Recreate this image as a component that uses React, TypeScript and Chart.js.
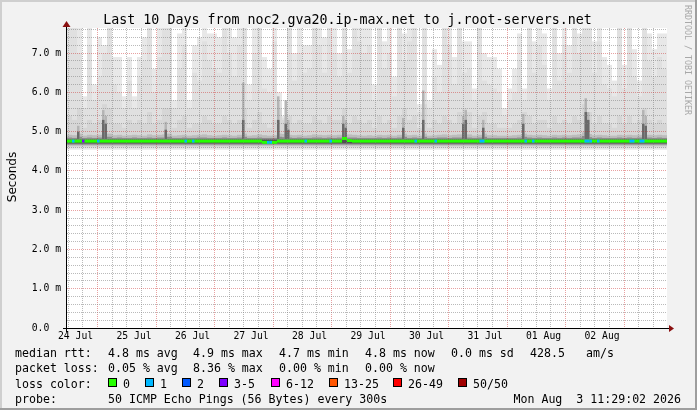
import React, { useEffect, useRef } from 'react';
import { Chart, registerables } from 'chart.js';

Chart.register(...registerables);

// ---------- text ----------
const TITLE = 'Last 10 Days from noc2.gva20.ip-max.net to j.root-servers.net';
const Y_UNIT = 'Seconds';
const WATERMARK = 'RRDTOOL / TOBI OETIKER';
const dayLabels = ['24 Jul', '25 Jul', '26 Jul', '27 Jul', '28 Jul', '29 Jul', '30 Jul', '31 Jul', '01 Aug', '02 Aug'];
const yLabels = ['0.0  ', '1.0 m', '2.0 m', '3.0 m', '4.0 m', '5.0 m', '6.0 m', '7.0 m'];
const rttStats = ['4.8 ms avg', '4.9 ms max', '4.7 ms min', '4.8 ms now', '0.0 ms sd', '428.5', 'am/s'];
const lossStats = ['0.05 % avg', '8.36 % max', '0.00 % min', '0.00 % now'];
const lossLabels = ['0', '1', '2', '3-5', '6-12', '13-25', '26-49', '50/50'];
const lossColors = ['#26ff00', '#00b8ff', '#0059ff', '#7e00ff', '#ff00ff', '#ff5500', '#ff0000', '#a10000'];
const PROBE = '50 ICMP Echo Pings (56 Bytes) every 300s';
const DATE = 'Mon Aug  3 11:29:02 2026';

// ---------- axes ----------
const Y_MAX = 7.64; // ms at top of plot
const HOURS = 240; // 10 days
const FIRST_TICK_H = 0.45; // first 6h boundary after start
const FINE_BINS = 240; // 1h steps

// ---------- smoke (ms), 120 bins of 2h ----------
const smokeTop1 = [
  7.7, 7.7, 7.7, 5.9, 7.7, 6.2, 7.4, 7.2, 7.7, 6.9,
  6.9, 5.9, 6.9, 5.9, 6.9, 7.4, 7.7, 6.6, 7.7, 7.7,
  7.7, 5.8, 7.5, 7.7, 5.8, 7.2, 7.4, 7.7, 7.5, 7.5,
  7.4, 7.7, 7.7, 7.4, 7.7, 7.7, 6.2, 7.7, 7.7, 6.9,
  6.6, 7.7, 6.0, 5.4, 7.7, 7.0, 7.7, 7.2, 7.2, 7.7,
  7.7, 7.4, 7.7, 7.7, 7.0, 7.7, 7.1, 7.7, 7.7, 7.7,
  7.7, 6.2, 7.7, 7.3, 7.7, 6.4, 7.7, 7.5, 7.7, 7.7,
  5.7, 7.7, 5.8, 7.1, 6.7, 7.7, 7.7, 6.9, 7.7, 7.3,
  7.3, 6.1, 7.7, 7.0, 6.9, 6.9, 6.6, 5.6, 6.1, 6.6,
  7.5, 6.1, 7.7, 7.3, 7.7, 7.5, 6.1, 7.7, 7.0, 7.7,
  7.2, 7.7, 7.5, 7.7, 7.7, 7.3, 7.7, 6.9, 6.7, 6.3,
  7.7, 6.7, 7.7, 7.1, 6.3, 7.7, 7.5, 7.1, 7.5, 7.5,
];
const smokeTop2 = [
  7.7, 7.7, 7.0, 5.6, 7.2, 5.8, 6.4, 7.0, 7.7, 6.2,
  6.0, 5.6, 6.3, 5.6, 6.4, 6.8, 7.7, 6.0, 6.9, 7.7,
  7.7, 5.6, 6.6, 7.2, 5.6, 6.5, 6.3, 7.3, 6.8, 6.6,
  6.5, 7.7, 7.0, 6.4, 7.2, 7.7, 5.8, 7.0, 7.7, 6.1,
  6.0, 7.3, 5.8, 5.35, 7.7, 6.3, 7.0, 6.5, 6.6, 7.7,
  7.2, 6.5, 7.7, 7.0, 6.4, 7.7, 6.5, 7.7, 7.3, 7.0,
  7.2, 5.8, 7.7, 6.6, 7.0, 5.9, 7.7, 6.8, 7.3, 7.7,
  5.5, 7.7, 5.6, 6.4, 6.0, 7.7, 7.2, 6.2, 7.7, 6.5,
  6.6, 5.8, 7.7, 6.3, 6.2, 6.1, 6.0, 5.4, 5.8, 6.0,
  6.8, 5.8, 7.7, 6.5, 7.2, 6.7, 5.8, 7.7, 6.3, 7.2,
  6.5, 7.7, 7.0, 7.7, 7.7, 6.5, 7.3, 6.2, 6.1, 5.9,
  7.7, 6.1, 7.7, 6.4, 5.9, 7.7, 6.8, 6.4, 6.9, 6.6,
];
const smokeTop3 = [
  5.4, 5.3, 5.6, 5.1, 5.3, 5.2, 5.3, 5.7, 5.6, 5.2,
  5.2, 5.1, 5.3, 5.2, 5.3, 5.2, 5.5, 5.2, 5.3, 5.6,
  5.6, 5.1, 5.3, 5.4, 5.1, 5.2, 5.2, 5.4, 5.3, 5.2,
  5.2, 5.4, 5.3, 5.2, 5.3, 5.6, 5.1, 5.3, 5.5, 5.2,
  5.1, 5.3, 5.6, 5.3, 5.4, 5.2, 5.3, 5.2, 5.2, 5.4,
  5.3, 5.2, 5.4, 5.3, 5.3, 5.6, 5.2, 5.4, 5.3, 5.2,
  5.3, 5.1, 5.4, 5.2, 5.3, 5.1, 5.4, 5.6, 5.3, 5.4,
  5.1, 5.7, 5.1, 5.3, 5.2, 5.4, 5.3, 5.2, 5.5, 5.6,
  5.5, 5.1, 5.4, 5.5, 5.2, 5.2, 5.1, 5.1, 5.1, 5.2,
  5.3, 5.5, 5.4, 5.2, 5.3, 5.3, 5.1, 5.4, 5.2, 5.3,
  5.2, 5.4, 5.3, 5.7, 5.5, 5.2, 5.4, 5.2, 5.2, 5.1,
  5.4, 5.2, 5.4, 5.2, 5.3, 5.6, 5.3, 5.2, 5.3, 5.2,
];
const smokeTop4 = [
  4.92, 4.91, 4.95, 4.90, 4.92, 4.91, 4.92, 4.97, 4.95, 4.91,
  4.92, 4.90, 4.91, 4.92, 4.91, 4.90, 4.93, 4.91, 4.92, 4.93,
  4.95, 4.90, 4.91, 4.92, 4.90, 4.91, 4.92, 4.93, 4.91, 4.90,
  4.91, 4.92, 4.91, 4.90, 4.92, 4.95, 4.90, 4.91, 4.93, 4.91,
  4.90, 4.91, 4.95, 4.94, 4.92, 4.91, 4.92, 4.90, 4.91, 4.93,
  4.92, 4.91, 4.92, 4.91, 4.92, 4.97, 4.93, 4.92, 4.91, 4.90,
  4.91, 4.90, 4.92, 4.91, 4.92, 4.90, 4.92, 4.95, 4.91, 4.92,
  4.90, 4.95, 4.90, 4.91, 4.92, 4.93, 4.91, 4.92, 4.93, 4.96,
  4.93, 4.90, 4.92, 4.95, 4.91, 4.91, 4.90, 4.90, 4.90, 4.91,
  4.92, 4.95, 4.92, 4.91, 4.92, 4.91, 4.90, 4.92, 4.91, 4.92,
  4.91, 4.92, 4.93, 4.98, 4.94, 4.91, 4.92, 4.91, 4.90, 4.90,
  4.92, 4.91, 4.92, 4.91, 4.92, 4.96, 4.92, 4.91, 4.92, 4.91,
];
const smokeTop5 = [
  4.85, 4.84, 4.87, 4.84, 4.85, 4.84, 4.85, 4.88, 4.87, 4.84,
  4.85, 4.84, 4.84, 4.85, 4.84, 4.84, 4.85, 4.84, 4.85, 4.85,
  4.87, 4.84, 4.84, 4.85, 4.84, 4.84, 4.85, 4.85, 4.84, 4.84,
  4.84, 4.85, 4.84, 4.84, 4.85, 4.87, 4.84, 4.84, 4.85, 4.84,
  4.84, 4.84, 4.87, 4.86, 4.85, 4.84, 4.85, 4.84, 4.84, 4.85,
  4.85, 4.84, 4.85, 4.84, 4.85, 4.89, 4.85, 4.85, 4.84, 4.84,
  4.84, 4.84, 4.85, 4.84, 4.85, 4.84, 4.85, 4.87, 4.84, 4.85,
  4.84, 4.87, 4.84, 4.84, 4.85, 4.85, 4.84, 4.85, 4.85, 4.88,
  4.85, 4.84, 4.85, 4.87, 4.84, 4.84, 4.84, 4.84, 4.84, 4.84,
  4.85, 4.87, 4.85, 4.84, 4.85, 4.84, 4.84, 4.85, 4.84, 4.85,
  4.84, 4.85, 4.85, 4.89, 4.86, 4.84, 4.85, 4.84, 4.84, 4.84,
  4.85, 4.84, 4.85, 4.84, 4.85, 4.88, 4.85, 4.84, 4.85, 4.84,
];
const SMOKE_LOW = [4.54, 4.58, 4.61, 4.64, 4.67, 4.70]; // lower edges of bands 1..6
const CORE_TOP = 4.80;

// dark smoke spikes at 1h resolution: [hour bin, mid-grey top, dark top]
const spikes: [number, number, number][] = [
  [4, 5.15, 5.0], [14, 5.55, 5.3], [15, 5.4, 5.2], [39, 5.25, 5.05], [70, 6.25, 5.3],
  [84, 5.9, 5.3], [87, 5.8, 5.2], [88, 5.3, 5.05], [110, 5.4, 5.2], [111, 5.3, 5.1],
  [134, 5.35, 5.1], [142, 6.05, 5.3], [158, 5.4, 5.2], [159, 5.55, 5.3], [166, 5.3, 5.1],
  [182, 5.45, 5.2], [207, 5.85, 5.5], [208, 5.5, 5.3], [230, 5.55, 5.2], [231, 5.4, 5.15],
];
const SPIKE_LOW = 4.8;

// median rtt per 2h bin
const median = [
  4.76, 4.76, 4.76, 4.76, 4.76, 4.76, 4.76, 4.76, 4.76, 4.76,
  4.76, 4.76, 4.76, 4.76, 4.76, 4.76, 4.76, 4.76, 4.76, 4.76,
  4.76, 4.76, 4.76, 4.76, 4.76, 4.76, 4.76, 4.76, 4.76, 4.76,
  4.76, 4.76, 4.76, 4.76, 4.76, 4.76, 4.76, 4.76, 4.76, 4.73,
  4.73, 4.73, 4.76, 4.76, 4.76, 4.76, 4.76, 4.76, 4.76, 4.76,
  4.76, 4.76, 4.76, 4.76, 4.76, 4.83, 4.77, 4.76, 4.76, 4.76,
  4.76, 4.76, 4.76, 4.76, 4.76, 4.76, 4.76, 4.76, 4.76, 4.76,
  4.76, 4.76, 4.76, 4.76, 4.76, 4.76, 4.76, 4.76, 4.76, 4.76,
  4.76, 4.76, 4.76, 4.76, 4.76, 4.76, 4.76, 4.76, 4.76, 4.76,
  4.76, 4.76, 4.76, 4.76, 4.76, 4.76, 4.76, 4.76, 4.76, 4.76,
  4.76, 4.76, 4.76, 4.76, 4.76, 4.76, 4.76, 4.76, 4.76, 4.76,
  4.76, 4.76, 4.76, 4.76, 4.76, 4.76, 4.76, 4.76, 4.76, 4.76,
];
// loss marks at 1h resolution: [hour bin, loss colour index]
const lossEvents: [number, number][] = [
  [2, 1], [6, 3], [12, 1], [47, 1], [50, 1], [80, 1], [81, 1], [95, 1], [105, 1],
  [139, 1], [147, 1], [165, 1], [166, 1], [183, 1], [186, 1], [207, 1], [208, 1],
  [209, 1], [212, 1], [225, 1], [226, 1], [229, 1], [230, 1],
];

const MED_HALF = 0.034;
const smokeColors = ['#e8e8e8', '#e0e0e0', '#d6d6d6', '#bcbcbc', '#8c8c8c', '#505050'];
const SPIKE_MID = '#b4b4b4';
const SPIKE_DARK = '#6a6a6a';
const GRID = 'rgba(130,130,130,0.55)';
const MGRID = 'rgba(200,30,30,0.42)';
const MONO = '"DejaVu Sans Mono"';

function buildConfig(): any {
  const binLabels = smokeTop1.map((_, i) => String(i));
  const fineLabels: string[] = [];
  for (let i = 0; i < FINE_BINS; i++) fineLabels.push('h' + i);

  const band = (lo: number, tops: number[]) => tops.map((t) => [lo, t]);
  const tops = [smokeTop1, smokeTop2, smokeTop3, smokeTop4, smokeTop5, smokeTop5.map(() => CORE_TOP)];
  const smokeSets = tops.map((t, i) => ({
    label: 'smoke' + (i + 1),
    data: band(SMOKE_LOW[i], t),
    backgroundColor: smokeColors[i],
    xAxisID: 'xb',
    yAxisID: 'y',
  })).reverse();

  const spikeMid: any[] = fineLabels.map(() => null);
  const spikeDark: any[] = fineLabels.map(() => null);
  spikes.forEach(([b, mid, dark]) => {
    spikeMid[b] = [SPIKE_LOW, mid];
    spikeDark[b] = [SPIKE_LOW, dark];
  });
  const lossData: any[] = fineLabels.map(() => null);
  const lossBg: string[] = fineLabels.map(() => lossColors[0]);
  lossEvents.forEach(([b, c]) => {
    const m = median[Math.floor(b / 2)];
    lossData[b] = [m - MED_HALF, m + MED_HALF];
    lossBg[b] = lossColors[c];
  });

  const xTicks: number[] = [];
  for (let h = FIRST_TICK_H; h <= HOURS; h += 6) xTicks.push(h);
  const yTicks: number[] = [];
  for (let i = 0; i * 0.2 < Y_MAX; i++) yTicks.push(i * 0.2);

  const bg = {
    id: 'bg',
    beforeDraw(chart: any) {
      const { ctx, chartArea: a } = chart;
      ctx.save();
      ctx.fillStyle = '#f2f2f2';
      ctx.fillRect(0, 0, 697, 410);
      ctx.fillStyle = '#cfcfcf';
      ctx.fillRect(0, 0, 697, 2);
      ctx.fillRect(0, 0, 2, 410);
      ctx.fillStyle = '#9e9e9e';
      ctx.fillRect(0, 408, 697, 2);
      ctx.fillRect(695, 0, 2, 410);
      ctx.fillStyle = '#ffffff';
      ctx.fillRect(a.left, a.top, a.right - a.left, a.bottom - a.top);
      ctx.restore();
    },
  };

  const overlay = {
    id: 'overlay',
    afterDraw(chart: any) {
      const { ctx, chartArea: a } = chart;
      // median line + loss marks above the grid
      ctx.save();
      ctx.beginPath();
      ctx.rect(a.left, a.top, a.right - a.left, a.bottom - a.top);
      ctx.clip();
      chart.getDatasetMeta(1).data.forEach((el: any) => el.draw(ctx));
      chart.getDatasetMeta(0).data.forEach((el: any) => { if (el && !el.skip) el.draw(ctx); });
      ctx.restore();

      ctx.save();
      // axes
      ctx.fillStyle = '#000';
      ctx.fillRect(a.left - 4, a.bottom, a.right - a.left + 6, 1);
      ctx.fillRect(a.left - 1, a.top - 2, 1, a.bottom - a.top + 6);
      ctx.fillStyle = '#8a1010';
      ctx.beginPath();
      ctx.moveTo(a.right + 2, a.bottom - 3);
      ctx.lineTo(a.right + 7, a.bottom + 0.5);
      ctx.lineTo(a.right + 2, a.bottom + 4);
      ctx.closePath();
      ctx.fill();
      ctx.beginPath();
      ctx.moveTo(a.left - 4.5, a.top - 1);
      ctx.lineTo(a.left + 3.5, a.top - 1);
      ctx.lineTo(a.left - 0.5, a.top - 7);
      ctx.closePath();
      ctx.fill();

      // title
      ctx.fillStyle = '#000';
      ctx.textBaseline = 'alphabetic';
      ctx.textAlign = 'center';
      ctx.font = `13.3px ${MONO}`;
      ctx.fillText(TITLE, 347.5, 24);

      // unit
      ctx.save();
      ctx.translate(15.5, 177);
      ctx.rotate(-Math.PI / 2);
      ctx.font = '12px "DejaVu Sans"';
      ctx.fillText(Y_UNIT, 0, 0);
      ctx.restore();

      // watermark
      ctx.save();
      ctx.translate(685, 5);
      ctx.rotate(Math.PI / 2);
      ctx.textAlign = 'left';
      ctx.fillStyle = '#a8a8a8';
      ctx.font = `8.3px ${MONO}`;
      ctx.fillText(WATERMARK, 0, 0);
      ctx.restore();

      // legend
      ctx.textAlign = 'left';
      ctx.font = `11.6px ${MONO}`;
      const cols = [108, 193, 279, 365, 451, 530, 586];
      const rows = [357, 372, 387.5, 402.5];
      ctx.fillText('median rtt:', 15, rows[0]);
      rttStats.forEach((s, i) => ctx.fillText(s, cols[i], rows[0]));
      ctx.fillText('packet loss:', 15, rows[1]);
      lossStats.forEach((s, i) => ctx.fillText(s, cols[i], rows[1]));
      ctx.fillText('loss color:', 15, rows[2]);
      const boxX = [108, 145, 182, 219, 271, 329, 393, 458];
      lossLabels.forEach((s, i) => {
        ctx.fillStyle = lossColors[i];
        ctx.fillRect(boxX[i] + 0.5, rows[2] - 9, 8, 8);
        ctx.strokeStyle = '#000';
        ctx.lineWidth = 1;
        ctx.strokeRect(boxX[i] + 0.5, rows[2] - 9, 8, 8);
        ctx.fillStyle = '#000';
        ctx.fillText(s, boxX[i] + 15, rows[2]);
      });
      ctx.fillText('probe:', 15, rows[3]);
      ctx.fillText(PROBE, 108, rows[3]);
      ctx.textAlign = 'right';
      ctx.fillText(DATE, 681, rows[3]);
      ctx.restore();
    },
  };

  return {
    type: 'bar',
    data: {
      labels: binLabels,
      datasets: [
        {
          label: 'loss',
          data: lossData,
          backgroundColor: lossBg,
          xAxisID: 'xs',
          yAxisID: 'y',
        },
        {
          label: 'median',
          data: median.map((m) => [m - MED_HALF, m + MED_HALF]),
          backgroundColor: lossColors[0],
          xAxisID: 'xb',
          yAxisID: 'y',
        },
        { label: 'spikeDark', data: spikeDark, backgroundColor: SPIKE_DARK, xAxisID: 'xs', yAxisID: 'y' },
        { label: 'spikeMid', data: spikeMid, backgroundColor: SPIKE_MID, xAxisID: 'xs', yAxisID: 'y' },
        ...smokeSets,
      ],
    },
    options: {
      animation: false,
      responsive: false,
      devicePixelRatio: 1,
      events: [],
      layout: { padding: { left: 0, right: 30, top: 28, bottom: 0 } },
      plugins: { legend: { display: false }, tooltip: { enabled: false }, title: { display: false } },
      datasets: {
        bar: { grouped: false, barPercentage: 1, categoryPercentage: 1, inflateAmount: 0, borderWidth: 0 },
      },
      scales: {
        xb: { type: 'category', display: false, offset: true, grid: { display: false } },
        xs: { type: 'category', labels: fineLabels, display: false, offset: true, grid: { display: false } },
        x: {
          type: 'linear',
          position: 'bottom',
          min: 0,
          max: HOURS,
          bounds: 'data',
          afterBuildTicks: (s: any) => { s.ticks = xTicks.map((v) => ({ value: v })); },
          afterFit: (s: any) => { s.height = 82; },
          grid: {
            z: 1,
            drawTicks: false,
            lineWidth: 1,
            color: (c: any) => (c.index % 4 === 2 ? MGRID : GRID),
          },
          border: { display: false, dash: [1, 1] },
          ticks: {
            autoSkip: false,
            maxRotation: 0,
            minRotation: 0,
            padding: 3,
            color: '#000',
            font: { family: 'DejaVu Sans Mono', size: 9.75 },
            callback: (_v: any, i: number) => (i % 4 === 0 ? dayLabels[i / 4] : ''),
          },
        },
        y: {
          type: 'linear',
          position: 'left',
          min: 0,
          max: Y_MAX,
          afterBuildTicks: (s: any) => { s.ticks = yTicks.map((v) => ({ value: v })); },
          afterFit: (s: any) => { s.width = 67; },
          grid: {
            z: 1,
            drawTicks: false,
            lineWidth: 1,
            color: (c: any) => (c.index % 5 === 0 ? MGRID : GRID),
          },
          border: { display: false, dash: [1, 1] },
          ticks: {
            autoSkip: false,
            padding: 6,
            color: '#000',
            font: { family: 'DejaVu Sans Mono', size: 9.75 },
            callback: (_v: any, i: number) => (i % 5 === 0 ? yLabels[i / 5] : ''),
          },
        },
      },
    },
    plugins: [bg, overlay],
  };
}

export default function App() {
  const ref = useRef<HTMLCanvasElement>(null);
  useEffect(() => {
    const canvas = ref.current;
    if (!canvas) return;
    const chart = new Chart(canvas, buildConfig());
    return () => chart.destroy();
  }, []);
  return (
    <div style={{ position: 'absolute', left: 0, top: 0, width: 697, height: 410 }}>
      <canvas ref={ref} width={697} height={410} style={{ display: 'block', width: 697, height: 410 }} />
    </div>
  );
}
